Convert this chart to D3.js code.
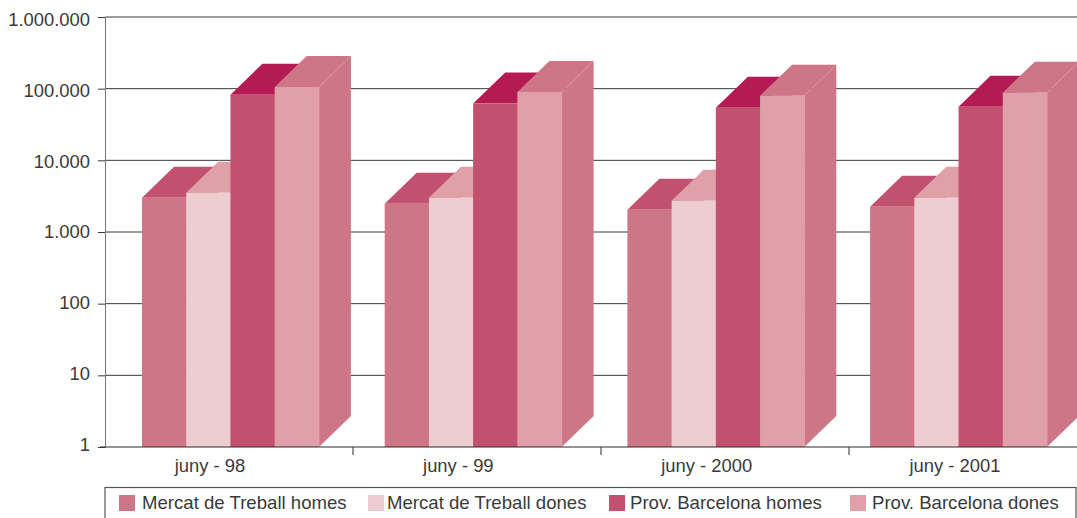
<!DOCTYPE html>
<html>
<head>
<meta charset="utf-8">
<script src="https://cdn.jsdelivr.net/npm/d3@7"></script>
<style>
  html, body { margin: 0; padding: 0; background: #fff; overflow: hidden; }
  text { font-family: "Liberation Sans", sans-serif; fill: #3a3a3a; }
  .axis text { font-size: 18.4px; }
  .legend-item text { font-size: 18.6px; }
</style>
</head>
<body>
<svg id="chart"></svg>
<script>
const periods = ["juny - 98", "juny - 99", "juny - 2000", "juny - 2001"];
const seriesNames = ["Mercat de Treball homes", "Mercat de Treball dones", "Prov. Barcelona homes", "Prov. Barcelona dones"];
const mercatHomes = [3000, 2480, 2040, 2250];
const mercatDones = [3530, 3000, 2730, 3000];
const provHomes = [82500, 61900, 54300, 56000];
const provDones = [105500, 90000, 79800, 88000];
const yTicks = [1, 10, 100, 1000, 10000, 100000, 1000000];

const frontColors = ["#cf7686", "#edcdd0", "#c2506f", "#e0a0a8"];
const topColors = ["#c2506f", "#e0a0a8", "#b51b53", "#cf7686"];
const sideColor = "#cf7686";

const width = 1077, height = 518;
const depthX = 32, depthY = 31;

const svg = d3.select("#chart").attr("width", width).attr("height", height);

const y = d3.scaleLog().domain([1, 1000000]).range([447, 17]);
// tick labels sit on a slightly tighter scale than the ticks
const yLabels = d3.scaleLog().domain([1, 1000000]).range([444, 19]);

// axis slots run past the window edge, like the reference
const xSlots = d3.scaleBand().domain(periods).range([105, 1097]);
const xLabels = d3.scalePoint().domain(periods).range([210, 955]);
const xGroup = d3.scaleBand().domain(periods).range([142, 1047]).paddingInner(0.271).paddingOuter(0);
const xBar = d3.scaleBand().domain(seriesNames).range([0, xGroup.bandwidth()]);

// horizontal grid
svg.append("g")
  .selectAll("line")
  .data(yTicks.slice(1))
  .join("line")
  .attr("x1", 105)
  .attr("x2", width)
  .attr("y1", (d) => y(d))
  .attr("y2", (d) => y(d))
  .attr("stroke", "#3a3a3a")
  .attr("stroke-width", 1);

// y axis
const nf = d3.formatLocale({ decimal: ",", thousands: ".", grouping: [3], currency: ["", ""] }).format(",d");
const yAxisG = svg.append("g")
  .attr("class", "axis")
  .attr("transform", "translate(105,0)")
  .call(d3.axisLeft(y).tickValues(yTicks).tickFormat(nf).tickSize(7).tickPadding(8));
yAxisG.select(".domain").attr("stroke", "#777").attr("stroke-width", 1);
yAxisG.selectAll(".tick line").attr("stroke", "#3a3a3a");
yAxisG.selectAll(".tick text")
  .attr("fill", "#3a3a3a")
  .attr("dy", "0.35em")
  .attr("y", (d) => yLabels(d) - y(d));

// bars, left to right so each one covers the side of the previous
const allSeries = [mercatHomes, mercatDones, provHomes, provDones];
const bars = periods.flatMap((period, p) =>
  seriesNames.map((name, s) => ({ period, name, s, value: allSeries[s][p] }))
);

const barG = svg.append("g")
  .selectAll("g")
  .data(bars)
  .join("g")
  .attr("transform", (d) => `translate(${xGroup(d.period) + xBar(d.name)},0)`);

const w = xBar.bandwidth();

barG.append("path")
  .attr("fill", sideColor)
  .attr("d", (d) => `M${w},${y(d.value)}L${w + depthX},${y(d.value) - depthY}L${w + depthX},${y(1) - depthY}L${w},${y(1)}Z`);

barG.append("path")
  .attr("fill", (d) => topColors[d.s])
  .attr("d", (d) => `M0,${y(d.value)}L${depthX},${y(d.value) - depthY}L${w + depthX},${y(d.value) - depthY}L${w},${y(d.value)}Z`);

barG.append("rect")
  .attr("y", (d) => y(d.value))
  .attr("width", w + 0.5)
  .attr("height", (d) => y(1) - y(d.value))
  .attr("fill", (d) => frontColors[d.s]);

// x axis: ticks on slot boundaries, labels set apart from them
const xAxisG = svg.append("g").attr("class", "axis");
xAxisG.append("line")
  .attr("x1", 100).attr("x2", width)
  .attr("y1", y(1)).attr("y2", y(1))
  .attr("stroke", "#2a2a2a");
xAxisG.selectAll(".slot-tick")
  .data(periods.slice(1))
  .join("line")
  .attr("class", "slot-tick")
  .attr("x1", (d) => xSlots(d))
  .attr("x2", (d) => xSlots(d))
  .attr("y1", y(1))
  .attr("y2", y(1) + 8)
  .attr("stroke", "#2a2a2a");
xAxisG.selectAll(".period-label")
  .data(periods)
  .join("text")
  .attr("class", "period-label")
  .attr("x", (d) => xLabels(d))
  .attr("y", 472)
  .attr("text-anchor", "middle")
  .text((d) => d);

// legend
const legend = svg.append("g");
legend.append("rect")
  .attr("x", 105).attr("y", 487.5)
  .attr("width", 971).attr("height", 40)
  .attr("fill", "none")
  .attr("stroke", "#555")
  .attr("stroke-width", 1.2);

const xLegend = d3.scaleOrdinal().domain(seriesNames).range([119, 368, 609, 850]);
const xLegendText = d3.scaleOrdinal().domain(seriesNames).range([142, 387, 630, 872]);
const legendItems = legend.selectAll(".legend-item")
  .data(seriesNames)
  .join("g")
  .attr("class", "legend-item");
legendItems.append("rect")
  .attr("x", (d) => xLegend(d))
  .attr("y", 495)
  .attr("width", 16)
  .attr("height", 16)
  .attr("fill", (d, i) => frontColors[i]);
legendItems.append("text")
  .attr("x", (d) => xLegendText(d))
  .attr("y", 509)
  .text((d) => d);
</script>
</body>
</html>
